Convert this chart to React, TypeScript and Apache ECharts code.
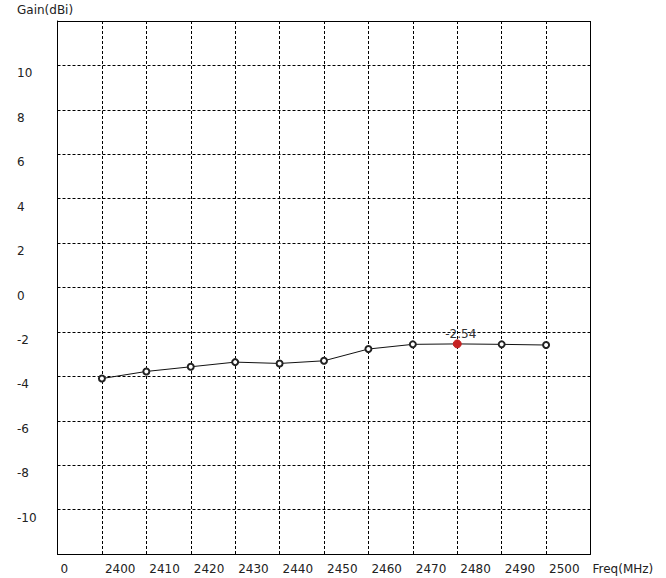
import React, { useEffect, useRef } from "react";
import * as echarts from "echarts";

const freqs = [2400, 2410, 2420, 2430, 2440, 2450, 2460, 2470, 2480, 2490, 2500];
const gains = [-4.1, -3.78, -3.57, -3.36, -3.42, -3.3, -2.77, -2.56, -2.54, -2.56, -2.59];
const peakIndex = 8;
const peakLabel = "-2.54";
const xTitle = "Freq(MHz)";
const yTitle = "Gain(dBi)";

const FONT = "DejaVu Sans";
const TXT = "#222";

export default function App() {
  const ref = useRef<HTMLDivElement>(null);
  useEffect(() => {
    if (!ref.current) return;
    const chart = echarts.init(ref.current, undefined, { renderer: "svg" });
    const data = freqs.map((f, i) => {
      if (i === peakIndex) {
        return {
          value: [f, gains[i]],
          symbol: "circle",
          symbolSize: 8,
          itemStyle: { color: "#c62222", borderColor: "#c62222", borderWidth: 1 },
          label: {
            show: true,
            formatter: peakLabel,
            position: "inside",
            offset: [3.5, -10],
            color: "#333",
            fontFamily: FONT,
            fontSize: 12,
          },
        };
      }
      return { value: [f, gains[i]] };
    });
    chart.setOption({
      animation: false,
      backgroundColor: "#fff",
      textStyle: { fontFamily: FONT },
      grid: { left: 57.5, top: 21, width: 533, height: 533, containLabel: false },
      graphic: [
        {
          type: "text",
          left: 17,
          top: 4,
          style: { text: yTitle, fontFamily: FONT, fontSize: 12, fill: TXT },
        },
      ],
      xAxis: {
        type: "value",
        min: 2390,
        max: 2510,
        interval: 10,
        name: xTitle,
        nameLocation: "end",
        nameGap: 2,
        nameTextStyle: {
          fontFamily: FONT,
          fontSize: 12,
          color: TXT,
          align: "left",
          verticalAlign: "top",
          padding: [9, 0, 0, 0],
        },
        axisLine: { show: true, onZero: false, lineStyle: { color: "#000", width: 1 } },
        axisTick: { show: false },
        axisLabel: {
          show: true,
          fontFamily: FONT,
          fontSize: 12,
          color: TXT,
          align: "left",
          margin: 9,
          padding: [0, 0, 0, 3],
          showMaxLabel: false,
          formatter: (v: number) => (v === 2390 ? "0" : v === 2510 ? "" : String(v)),
        },
        splitLine: { show: true, lineStyle: { color: "#000", type: [3, 2], width: 1 } },
      },
      yAxis: {
        type: "value",
        min: -12,
        max: 12,
        interval: 2,
        axisLine: { show: true, onZero: false, lineStyle: { color: "#000", width: 1 } },
        axisTick: { show: false },
        axisLabel: {
          show: true,
          fontFamily: FONT,
          fontSize: 12,
          color: TXT,
          align: "left",
          verticalAlign: "top",
          margin: 40.5,
          padding: [2, 0, 0, 0],
          formatter: (v: number) => (Math.abs(v) === 12 ? "" : String(v)),
        },
        splitLine: { show: true, lineStyle: { color: "#000", type: [3, 2], width: 1 } },
      },
      series: [
        {
          type: "line",
          data,
          symbol: "emptyCircle",
          symbolSize: 6,
          showAllSymbol: true,
          lineStyle: { color: "#111", width: 1 },
          itemStyle: { color: "#222", borderColor: "#222", borderWidth: 1 },
          z: 5,
        },
        {
          // right and top frame lines
          type: "line",
          data: [],
          markLine: {
            silent: true,
            symbol: "none",
            label: { show: false },
            lineStyle: { color: "#000", type: "solid", width: 1 },
            data: [{ xAxis: 2510 }, { yAxis: 12 }],
          },
        },
      ],
    });
    return () => chart.dispose();
  }, []);
  return (
    <div
      ref={ref}
      style={{ position: "fixed", left: 0, top: 0, width: 666, height: 578, background: "#fff" }}
    />
  );
}
